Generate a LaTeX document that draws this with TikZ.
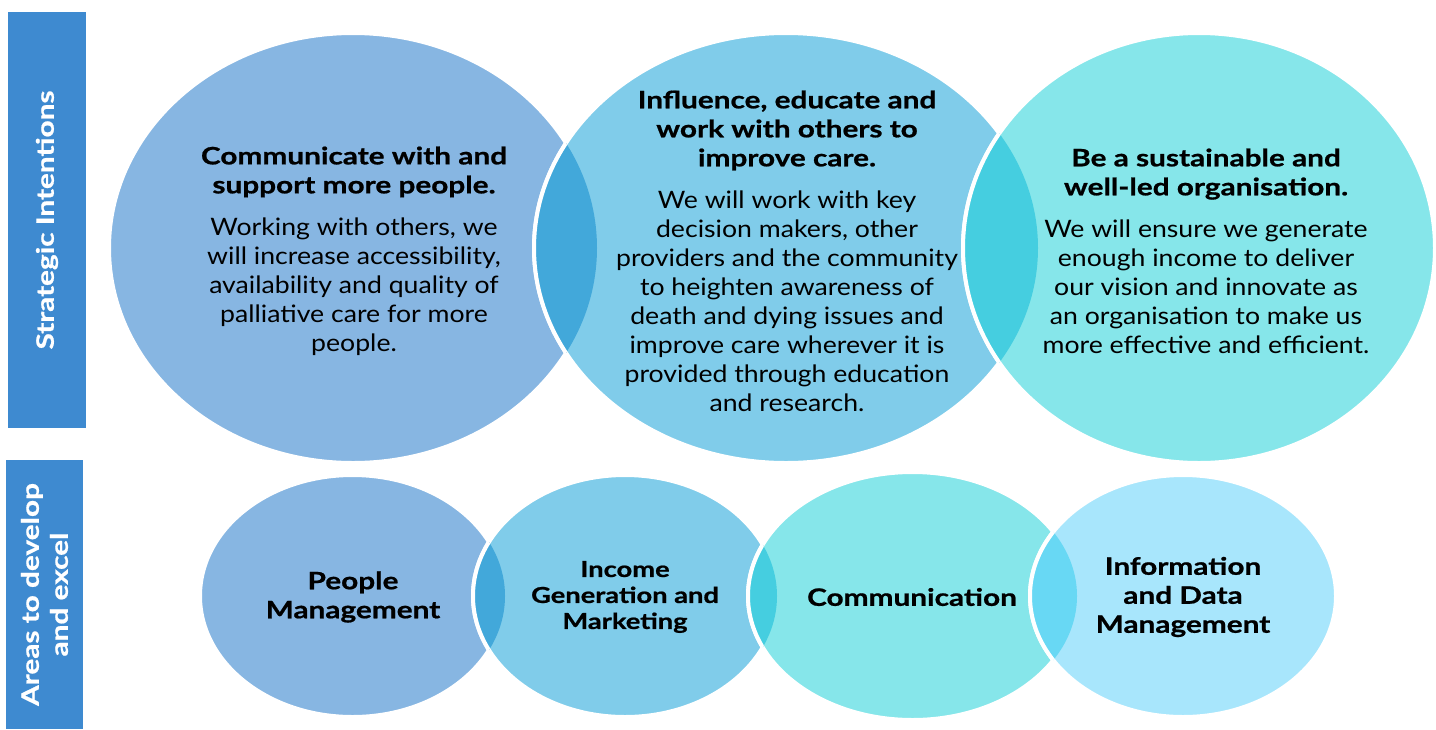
\documentclass[tikz,border=0pt]{standalone}
\usepackage{fontspec}
\setmainfont{Lato}[FakeStretch=1.11]
\newfontfamily\headfont{Lato}[FakeStretch=1.24,FakeBold=0.8]
\definecolor{sidebar}{HTML}{3E8AD0}
\definecolor{blobA}{HTML}{87B6E2}
\definecolor{blobB}{HTML}{80CCEA}
\definecolor{blobC}{HTML}{86E6EA}
\definecolor{blobD}{HTML}{A8E6FC}
\definecolor{lensAB}{HTML}{42A8DA}
\definecolor{lensBC}{HTML}{45CEE0}
\definecolor{lensCD}{HTML}{68D8F4}
% filled ellipse with a white rim
\newcommand\blob[5]{\fill[#5,draw=white,line width=4pt] (#1,#2) ellipse [x radius=#3,y radius=#4];}
% darker lens where ellipse #5-#8 covers ellipse #1-#4
\newcommand\lens[9]{%
  \begin{scope}
    \clip (#1,#2) ellipse [x radius=#3,y radius=#4];
    \fill[#9,draw=white,line width=4pt] (#5,#6) ellipse [x radius=#7,y radius=#8];
  \end{scope}}
\newcommand\hd[1]{{\headfont\bfseries #1}}
\begin{document}
\begin{tikzpicture}[x=1pt,y=-1pt,
  sidelabel/.style={fill=sidebar,inner sep=0pt},
  sidetext/.style={text=white,align=center,rotate=90,
    font=\headfont\bfseries\fontsize{24}{29}\selectfont},
  bodytext/.style={align=center,inner sep=0pt,
    font=\fontsize{24}{29}\selectfont},
  areatext/.style={align=center,inner sep=0pt,
    font=\headfont\bfseries\fontsize{24}{29}\selectfont}]
\useasboundingbox (0,0) rectangle (1436,729);

% side bars
\node[sidelabel,minimum width=78pt,minimum height=416pt] (sibar) at (47,220) {};
\node[sidetext] (silbl) at (sibar.center) {Strategic Intentions};
\node[sidelabel,minimum width=77pt,minimum height=269pt] (arbar) at (44.5,594.5) {};
\node[sidetext] (arlbl) at (arbar.center) {Areas to develop\\and excel};

% strategic intentions
\blob{353}{248}{244}{215}{blobA}
\blob{786}{248}{252}{215}{blobB}
\lens{353}{248}{244}{215}{786}{248}{252}{215}{lensAB}
\blob{1199}{248}{236}{215}{blobC}
\lens{786}{248}{252}{215}{1199}{248}{236}{215}{lensBC}

\node[bodytext] (si1) at (354,251) {\hd{Communicate with and}\\\hd{support more people.}\\[13pt]
  Working with others, we\\will increase accessibility,\\availability and quality of\\palliative care for more\\people.};
\node[bodytext] (si2) at (787,251) {\hd{Influence, educate and}\\\hd{work with others to}\\\hd{improve care.}\\[13pt]
  We will work with key\\decision makers, other\\providers and the community\\to heighten awareness of\\death and dying issues and\\improve care wherever it is\\provided through education\\and research.};
\node[bodytext] (si3) at (1206,251) {\hd{Be a sustainable and}\\\hd{well-led organisation.}\\[13pt]
  We will ensure we generate\\enough income to deliver\\our vision and innovate as\\an organisation to make us\\more effective and efficient.};

% areas to develop and excel
\blob{352.5}{596}{152.5}{121}{blobA}
\blob{625}{596}{152}{121}{blobB}
\lens{352.5}{596}{152.5}{121}{625}{596}{152}{121}{lensAB}
\blob{912.5}{596}{164.5}{124}{blobC}
\lens{625}{596}{152}{121}{912.5}{596}{164.5}{124}{lensBC}
\blob{1183}{596}{153}{121}{blobD}
\lens{912.5}{596}{164.5}{124}{1183}{596}{153}{121}{lensCD}

\node[areatext] (ar1) at (353,597) {People\\Management};
\node[areatext,font=\headfont\bfseries\fontsize{22}{26}\selectfont] (ar2) at (625,597) {Income\\Generation and\\Marketing};
\node[areatext] (ar3) at (912,597) {Communication};
\node[areatext] (ar4) at (1183,597) {Information\\and Data\\Management};
\end{tikzpicture}
\end{document}
